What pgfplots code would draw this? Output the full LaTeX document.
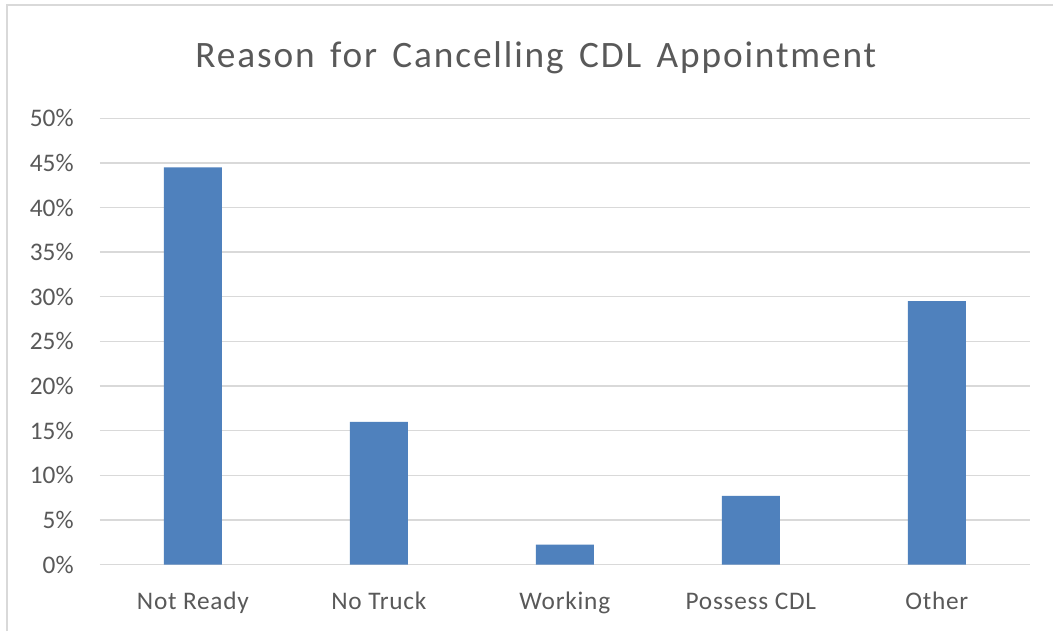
\documentclass[border=0pt]{standalone}
\usepackage{pgfplots}
\pgfplotsset{compat=1.18}
\usepackage{fontspec}
\setmainfont{Carlito}
\newfontfamily\titlefont[LetterSpace=5,WordSpace=1.5]{Carlito}
\newfontfamily\xlabfont[LetterSpace=3]{Carlito}
\definecolor{barblue}{HTML}{4F81BD}
\definecolor{txtgray}{HTML}{595959}
\definecolor{gridgray}{HTML}{D9D9D9}
\begin{document}
\begin{tikzpicture}
\fill[white] (0,0) rectangle (790.5pt,474pt);
\draw[gridgray, line width=1.9pt] (5.25pt,0pt) -- (5.25pt,470.25pt) -- (790.5pt,470.25pt);
\node[anchor=base, text=txtgray, font=\titlefont\fontsize{28}{33}\selectfont, inner sep=0pt] at (402.4pt,423.5pt) {Reason for Cancelling CDL Appointment};
\begin{axis}[
  at={(75pt,50pt)}, anchor=south west,
  scale only axis, width=698.25pt, height=335.25pt,
  xmin=-0.5, xmax=4.5, ymin=0, ymax=50,
  ybar, bar width=43.5pt,
  xtick={0,1,2,3,4},
  xticklabels={Not Ready, No Truck, Working, Possess CDL, Other},
  ytick={0,5,10,15,20,25,30,35,40,45,50},
  yticklabels={0\%,5\%,10\%,15\%,20\%,25\%,30\%,35\%,40\%,45\%,50\%},
  ymajorgrids, major grid style={gridgray, line width=1pt},
  axis line style={draw=none},
  major tick length=0pt,
  tick label style={text=txtgray, font=\fontsize{19}{23}\selectfont},
  yticklabel style={anchor=east, inner sep=0pt, xshift=-19.5pt},
  xticklabel style={anchor=base, inner sep=0pt, yshift=-33.5pt, font=\xlabfont\fontsize{19}{23}\selectfont},
  clip=false,
]
\addplot[fill=barblue, draw=none] coordinates {(0,44.5) (1,16.0) (2,2.25) (3,7.7) (4,29.5)};
\end{axis}
\end{tikzpicture}
\end{document}
